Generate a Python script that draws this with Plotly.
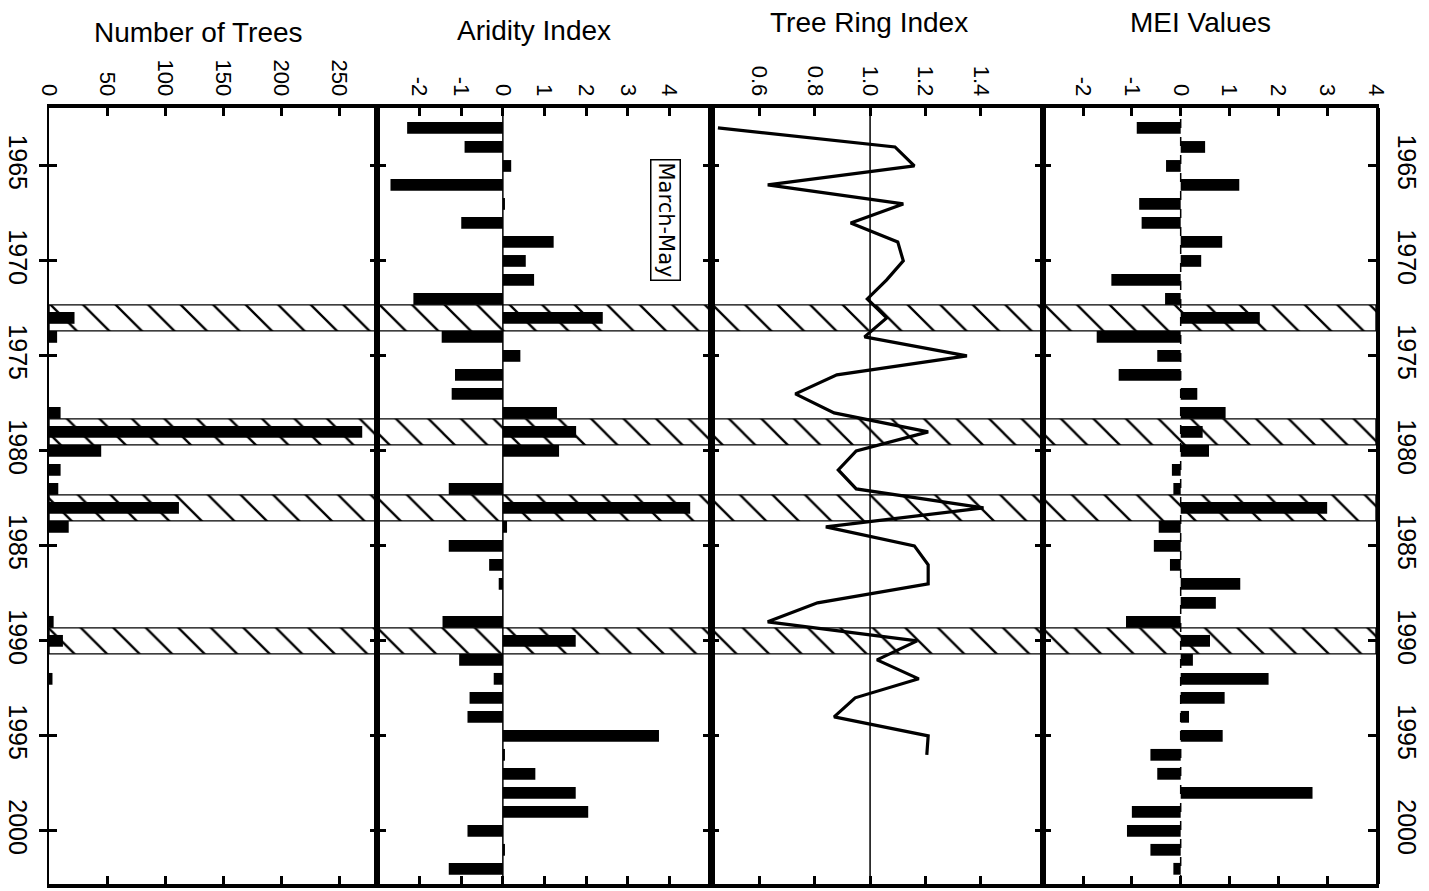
import plotly.graph_objects as go

# Figure size in pixels
W, H = 1429, 891

# ---------------------------------------------------------------- data
YEARS = list(range(1963, 2003))

# Number of trees established per year
TREES = [0, 0, 0, 0, 0, 0, 0, 0, 0, 0,
         22, 7, 0, 0, 0, 10, 270, 45, 10, 8,
         112, 17, 0, 0, 0, 0, 4, 12, 0, 3,
         0, 0, 0, 0, 0, 0, 0, 0, 0, 0]

# March-May aridity index
ARIDITY = [-2.3, -0.92, 0.2, -2.7, 0.05, -1.0, 1.22, 0.55, 0.75, -2.15,
           2.4, -1.47, 0.42, -1.15, -1.23, 1.3, 1.76, 1.35, 0.0, -1.3,
           4.5, 0.1, -1.3, -0.33, -0.1, 0.0, -1.45, 1.75, -1.05, -0.22,
           -0.8, -0.85, 3.75, 0.05, 0.78, 1.75, 2.05, -0.85, 0.05, -1.3]

# Multivariate ENSO index
MEI = [-0.9, 0.5, -0.3, 1.2, -0.85, -0.8, 0.85, 0.42, -1.42, -0.32,
       1.62, -1.72, -0.48, -1.27, 0.34, 0.92, 0.45, 0.58, -0.18, -0.15,
       3.0, -0.45, -0.55, -0.22, 1.22, 0.72, -1.12, 0.6, 0.25, 1.8,
       0.9, 0.17, 0.86, -0.62, -0.48, 2.7, -1.0, -1.1, -0.62, -0.15]

# Tree ring width index
RING_YEARS = list(range(1963, 1997))
RING_INDEX = [0.45, 1.09, 1.16, 0.63, 1.12, 0.93, 1.10, 1.12, 1.06, 0.99,
              1.06, 0.98, 1.35, 0.88, 0.73, 0.87, 1.21, 0.95, 0.885, 0.95,
              1.41, 0.84, 1.16, 1.21, 1.21, 0.81, 0.63, 1.17, 1.025, 1.176,
              0.946, 0.87, 1.21, 1.205]
RING_REFERENCE = 1.0

# Establishment pulse years (hatched bands)
BAND_YEARS = [1973, 1979, 1983, 1990]

# ---------------------------------------------------------------- labels
TITLES = ["Number of Trees", "Aridity Index", "Tree Ring Index", "MEI Values"]
SEASON_LABEL = "March-May"
YEAR_TICKS = [1965, 1970, 1975, 1980, 1985, 1990, 1995, 2000]
TREE_TICKS = [0, 50, 100, 150, 200, 250]
TREE_TICK_TEXT = ["0", "50", "100", "150", "200", "250"]
ARID_TICKS = [-2, -1, 0, 1, 2, 3, 4]
ARID_TICK_TEXT = ["-2", "-1", "0", "1", "2", "3", "4"]
RING_TICKS = [0.6, 0.8, 1.0, 1.2, 1.4]
RING_TICK_TEXT = ["0.6", "0.8", "1.0", "1.2", "1.4"]
MEI_TICKS = [-2, -1, 0, 1, 2, 3, 4]
MEI_TICK_TEXT = ["-2", "-1", "0", "1", "2", "3", "4"]

# ---------------------------------------------------------------- geometry
PANEL_PX = [(49, 378), (378, 711), (711, 1043), (1043, 1376)]
PLOT_TOP_PX, PLOT_BOTTOM_PX = 108, 884
X_RANGES = [(0, 283.6), (-3.0, 5.0), (0.425, 1.625), (-2.82, 4.0)]
Y_RANGE = [2002.8, 1961.95]          # reversed: early years at the top
BAR_WIDTH = 0.62
BAND_WIDTH = 1.37
SIDE_LINE_WIDTHS = [2, 4, 3, 3]

FONT = "Liberation Sans, Arial, sans-serif"
TICK_SETS = [(TREE_TICKS, TREE_TICK_TEXT), (ARID_TICKS, ARID_TICK_TEXT),
             (RING_TICKS, RING_TICK_TEXT), (MEI_TICKS, MEI_TICK_TEXT)]


def px_x(p):
    return p / W


def px_y(p):
    return 1 - p / H


def ax_names(i):
    s = "" if i == 1 else str(i)
    return "x" + s, "y" + s


fig = go.Figure()

# hatched bands across every panel, drawn first so the data sits on top
for i, (lo, hi) in enumerate(X_RANGES, start=1):
    xa, ya = ax_names(i)
    fig.add_trace(go.Bar(
        y=BAND_YEARS, x=[hi - lo] * len(BAND_YEARS), base=[lo] * len(BAND_YEARS),
        orientation="h", width=BAND_WIDTH,
        marker=dict(color="rgba(0,0,0,0)",
                    line=dict(color="black", width=1.4),
                    pattern=dict(shape="\\", fgcolor="black",
                                 bgcolor="rgba(0,0,0,0)", size=23, solidity=0.1)),
        xaxis=xa, yaxis=ya, hoverinfo="skip", showlegend=False))

bar_style = dict(orientation="h", width=BAR_WIDTH,
                 marker=dict(color="black", line=dict(width=0)), showlegend=False)
fig.add_trace(go.Bar(y=YEARS, x=TREES, xaxis="x", yaxis="y", name="Trees", **bar_style))
fig.add_trace(go.Bar(y=YEARS, x=ARIDITY, xaxis="x2", yaxis="y2", name="Aridity", **bar_style))
fig.add_trace(go.Scatter(y=RING_YEARS, x=RING_INDEX, mode="lines",
                         line=dict(color="black", width=3.2),
                         xaxis="x3", yaxis="y3", name="Tree ring", showlegend=False))
fig.add_trace(go.Bar(y=YEARS, x=MEI, xaxis="x4", yaxis="y4", name="MEI", **bar_style))

# carriers for the year-label axes on the outer edges
fig.add_trace(go.Scatter(x=[None], y=[None], xaxis="x", yaxis="y5",
                         showlegend=False, hoverinfo="skip"))
fig.add_trace(go.Scatter(x=[None], y=[None], xaxis="x4", yaxis="y6",
                         showlegend=False, hoverinfo="skip"))

layout = dict(
    width=W, height=H, margin=dict(l=0, r=0, t=0, b=0),
    paper_bgcolor="white", plot_bgcolor="white", template="none",
    barmode="overlay", showlegend=False,
    font=dict(family=FONT, color="black"),
)

y_domain = [px_y(PLOT_BOTTOM_PX), px_y(PLOT_TOP_PX)]
for i, ((p0, p1), rng, (tv, tt), lw) in enumerate(
        zip(PANEL_PX, X_RANGES, TICK_SETS, SIDE_LINE_WIDTHS), start=1):
    xa, ya = ax_names(i)
    xkey = "xaxis" if i == 1 else f"xaxis{i}"
    ykey = "yaxis" if i == 1 else f"yaxis{i}"
    layout[xkey] = dict(
        domain=[px_x(p0), px_x(p1)], range=list(rng), anchor=ya, side="top",
        tickmode="array", tickvals=tv, ticktext=tt, tickangle=90,
        ticks="inside", ticklen=8, tickwidth=2.5, tickcolor="black",
        tickfont=dict(family=FONT, size=22, color="black"), ticklabelstandoff=0,
        showline=True, linewidth=4, linecolor="black", mirror="ticks",
        showgrid=False, zeroline=False, fixedrange=True)
    layout[ykey] = dict(
        domain=y_domain, range=Y_RANGE, anchor=xa,
        tickmode="array", tickvals=YEAR_TICKS, showticklabels=False,
        ticks="inside", ticklen=8, tickwidth=3, tickcolor="black",
        showline=True, linewidth=lw, linecolor="black", mirror="ticks",
        showgrid=False, zeroline=False, fixedrange=True)

# year labels down the left and right edges
layout["yaxis5"] = dict(
    overlaying="y", anchor="x", side="left", range=Y_RANGE,
    tickmode="array", tickvals=YEAR_TICKS, tickangle=90,
    ticks="outside", ticklen=9, tickwidth=3, tickcolor="black",
    tickfont=dict(family=FONT, size=25, color="black"), ticklabelstandoff=0,
    showline=False, showgrid=False, zeroline=False, fixedrange=True)
layout["yaxis6"] = dict(
    overlaying="y4", anchor="x4", side="right", range=Y_RANGE,
    tickmode="array", tickvals=YEAR_TICKS, tickangle=90, ticks="",
    tickfont=dict(family=FONT, size=25, color="black"), ticklabelstandoff=8,
    showline=True, linewidth=4, linecolor="black",
    showgrid=False, zeroline=False, fixedrange=True)

fig.update_layout(**layout)

# reference lines: aridity 0, ring index 1.0, MEI 0 (dashed)
for xref, xv, dash in [("x2", 0, "solid"), ("x3", RING_REFERENCE, "solid"), ("x4", 0, "dash")]:
    yref = "y" + xref[1:]
    fig.add_shape(type="line", xref=xref, yref=yref + " domain",
                  x0=xv, x1=xv, y0=0, y1=1, layer="below",
                  line=dict(color="black", width=1.5, dash=dash))

# panel titles
TITLE_POS = [(198, 33), (534, 31), (869, 22), (1200, 22)]
for text, (cx, cy) in zip(TITLES, TITLE_POS):
    fig.add_annotation(text=text, x=px_x(cx), y=px_y(cy), xref="paper", yref="paper",
                       showarrow=False, xanchor="center", yanchor="middle",
                       font=dict(family=FONT, size=28, color="black"))

# season label inside the aridity panel
fig.add_annotation(text=SEASON_LABEL, x=px_x(666), y=px_y(220), xref="paper", yref="paper",
                   showarrow=False, textangle=90, xanchor="center", yanchor="middle",
                   bordercolor="black", borderwidth=1.5, borderpad=2, bgcolor="white",
                   font=dict(family="DejaVu Sans, sans-serif", size=21, color="black"))

fig.write_html("out.html")
